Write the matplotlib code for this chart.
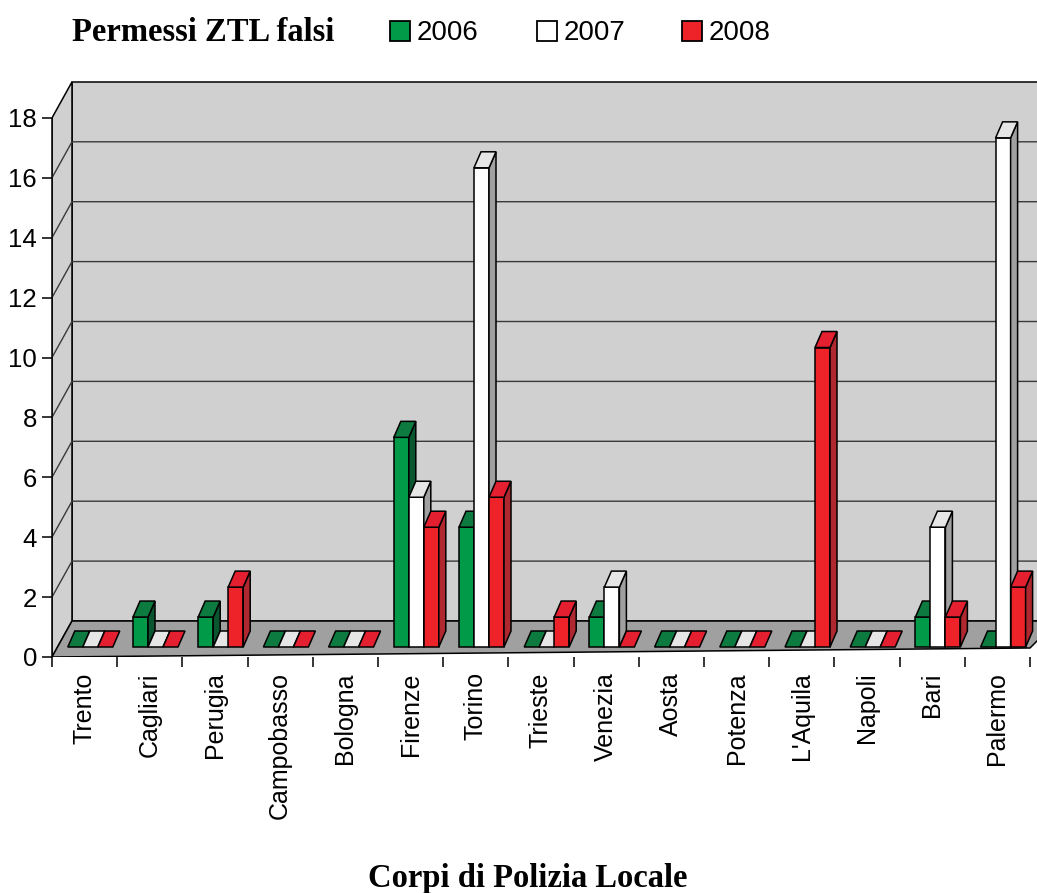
import matplotlib
matplotlib.use('Agg')
import matplotlib.pyplot as plt
from matplotlib.patches import Polygon, Rectangle
import numpy as np

# dati: corpi di polizia locale e permessi ZTL falsi per anno
citta = ['Trento', 'Cagliari', 'Perugia', 'Campobasso', 'Bologna', 'Firenze',
         'Torino', 'Trieste', 'Venezia', 'Aosta', 'Potenza', "L'Aquila",
         'Napoli', 'Bari', 'Palermo']
anni = ['2006', '2007', '2008']
v2006 = [0, 1, 1, 0, 0, 7, 4, 0, 1, 0, 0, 0, 0, 1, 0]
v2007 = [0, 0, 0, 0, 0, 5, 16, 0, 2, 0, 0, 0, 0, 4, 17]
v2008 = [0, 0, 2, 0, 0, 4, 5, 1, 0, 0, 0, 10, 0, 1, 2]
serie = [v2006, v2007, v2008]

# colori: fronte, cima, fianco
col_fronte = ['#009a49', '#ffffff', '#ee2229']
col_cima = ['#0d7a40', '#e6e6e6', '#e42030']
col_fianco = ['#0a5631', '#a0a0a0', '#b0282f']

plt.rcParams['font.family'] = 'sans-serif'
plt.rcParams['font.sans-serif'] = ['Liberation Sans', 'DejaVu Sans']

W, H = 1037, 893
fig = plt.figure(figsize=(W / 100, H / 100), dpi=100)

# geometria in pixel
x0, y0 = 52, 657        # origine dell'asse anteriore
px_cat = 65.2           # pixel per categoria
px_val = 29.95          # pixel per unita'
ytop = 80

ax = fig.add_axes([x0 / W, (H - y0) / H, (W - x0) / W, (y0 - ytop) / H])
xmax = (W - x0) / px_cat
ymax = (y0 - ytop) / px_val
ax.set_xlim(0, xmax)
ax.set_ylim(0, ymax)

# profondita' della scatola
DX, DY = 20 / px_cat, 36 / px_val
# barre
bx0 = 15.8 / px_cat
bw = 15 / px_cat
bb = 10 / px_val
bdx, bdy = 7 / px_cat, 16 / px_val

ec = 'black'
lw = 1.1

# pareti e pavimento
ax.add_patch(Rectangle((DX, DY), xmax, 18, fc='#d0d0d0', ec=ec, lw=lw, zorder=1))
ax.add_patch(Polygon([(0, 0), (0, 18), (DX, 18 + DY), (DX, DY)],
                     closed=True, fc='#d0d0d0', ec=ec, lw=lw, zorder=1))
ax.add_patch(Polygon([(0, 0), (15, 9 / px_val), (15 + 8 / px_cat, 17 / px_val),
                      (xmax + 0.5, DY), (DX, DY)],
                     closed=True, fc='#a0a0a0', ec=ec, lw=lw, zorder=2))

for v in range(2, 17, 2):
    ax.plot([0, DX, xmax], [v, v + DY, v + DY], color='#3a3a3a', lw=1.0, zorder=1.5)


def barra(x, h, k):
    if h > 0:
        ax.add_patch(Rectangle((x, bb), bw, h, fc=col_fronte[k], ec=ec, lw=lw, zorder=3))
        ax.add_patch(Polygon([(x + bw, bb), (x + bw + bdx, bb + bdy),
                              (x + bw + bdx, bb + h + bdy), (x + bw, bb + h)],
                             closed=True, fc=col_fianco[k], ec=ec, lw=lw, zorder=3))
    ax.add_patch(Polygon([(x, bb + h), (x + bw, bb + h),
                          (x + bw + bdx, bb + h + bdy), (x + bdx, bb + h + bdy)],
                         closed=True, fc=col_cima[k], ec=ec, lw=lw, zorder=3))


for i in range(len(citta)):
    for k, s in enumerate(serie):
        barra(i + bx0 + k * bw, s[i], k)

# assi
for sp in ['top', 'right', 'bottom']:
    ax.spines[sp].set_visible(False)
ax.spines['left'].set_bounds(0, 18)
ax.spines['left'].set_linewidth(1.1)
ax.spines['left'].set_zorder(4)

ax.set_xticks(range(len(citta) + 1))
ax.set_xticklabels([])
ax.set_xticks(np.arange(len(citta)) + 0.5, minor=True)
ax.set_xticklabels(citta, minor=True, rotation=90, fontsize=18)
ax.tick_params(axis='x', which='major', length=7, width=1.1, direction='out')
ax.tick_params(axis='x', which='minor', length=0, pad=11)

ax.set_yticks(range(0, 19, 2))
ax.tick_params(axis='y', length=7.2, width=1.1, pad=3.6, labelsize=18.5)

# titolo e legenda
fig.text(72 / W, 1 - 41 / H, 'Permessi ZTL falsi', va='baseline', ha='left',
         fontsize=23.5, family='Liberation Serif', weight='bold')
leg_x = [390, 537, 682]
for k, a in enumerate(anni):
    fig.patches.append(Rectangle((leg_x[k] / W, 1 - 41 / H), 20 / W, 20 / H,
                                 transform=fig.transFigure, fc=col_fronte[k],
                                 ec='black', lw=1.3))
    fig.text((leg_x[k] + 27) / W, 1 - 40 / H, a, va='baseline', ha='left', fontsize=20)

fig.text(528 / W, 1 - 878 / H, 'Corpi di Polizia Locale', va='center', ha='center',
         fontsize=23.5, family='Liberation Serif', weight='bold')

fig.savefig('out.png', dpi=100)
